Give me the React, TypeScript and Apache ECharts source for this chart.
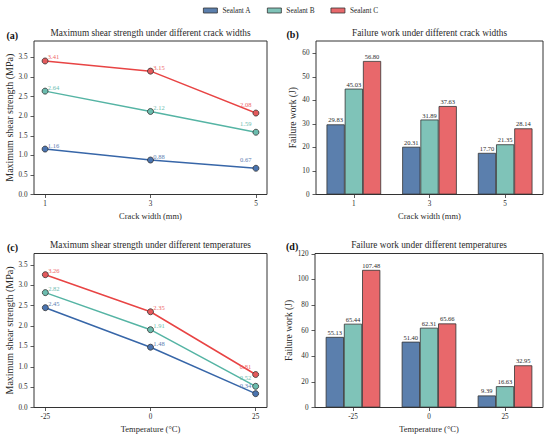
import React, { useEffect, useRef } from "react";
import * as echarts from "echarts";

const seriesNames = ["Sealant A", "Sealant B", "Sealant C"];
const crackWidths = [1, 3, 5];
const temperatures = [-25, 0, 25];

const strengthCrackA = [1.16, 0.88, 0.67];
const strengthCrackB = [2.64, 2.12, 1.59];
const strengthCrackC = [3.41, 3.15, 2.08];

const workCrackA = [29.83, 20.31, 17.7];
const workCrackB = [45.03, 31.89, 21.35];
const workCrackC = [56.8, 37.63, 28.14];

const strengthTempA = [2.45, 1.48, 0.34];
const strengthTempB = [2.82, 1.91, 0.52];
const strengthTempC = [3.26, 2.35, 0.81];

const workTempA = [55.13, 51.4, 9.39];
const workTempB = [65.44, 62.31, 16.63];
const workTempC = [107.48, 65.66, 32.95];

const strengthTicks = [0, 0.5, 1.0, 1.5, 2.0, 2.5, 3.0, 3.5];
const workCrackTicks = [0, 10, 20, 30, 40, 50, 60];
const workTempTicks = [0, 20, 40, 60, 80, 100, 120];

const titles = [
  "Maximum shear strength under different crack widths",
  "Failure work under different crack widths",
  "Maximum shear strength under different temperatures",
  "Failure work under different temperatures",
];
const panelLabels = ["(a)", "(b)", "(c)", "(d)"];

const FONT = "'Liberation Serif', 'Times New Roman', 'DejaVu Serif', serif";
const barColors = ["#5b7fad", "#7fc3b8", "#e8686b"];
const lineColors = ["#3766a8", "#55b4a4", "#e84444"];
const markerColors = ["#4a74b0", "#6bbcae", "#e35a5c"];
const labelColors = ["#5b80b2", "#6cbdb0", "#ee6668"];
const EDGE = "#333333";
const TEXT = "#2a2a2a";

export default function App() {
  const ref = useRef<HTMLDivElement | null>(null);

  useEffect(() => {
    if (!ref.current) return;
    const chart = echarts.init(ref.current, undefined, { renderer: "svg" });

    const axisTick = { show: true, length: 3.5, inside: false, lineStyle: { color: EDGE, width: 0.8 } };
    const axisLabel = { color: TEXT, fontSize: 7.2, fontFamily: FONT };
    const nameStyle = { color: TEXT, fontSize: 8.5, fontFamily: FONT };

    const lineSeries = (
      name: string,
      idx: number,
      axis: number,
      xs: number[],
      vals: number[]
    ) => ({
      type: "line",
      name,
      xAxisIndex: axis,
      yAxisIndex: axis,
      data: xs.map((x, i) => {
        const last = i === xs.length - 1;
        return {
          value: [x, vals[i]],
          label: last
            ? { align: "right", offset: [-4.5, -8.5] }
            : { align: "left", offset: [2.8, -4] },
        };
      }),
      symbol: "circle",
      symbolSize: 6,
      lineStyle: { color: lineColors[idx], width: 1.5 },
      itemStyle: { color: markerColors[idx], borderColor: EDGE, borderWidth: 0.8 },
      label: {
        show: true,
        position: "inside",
        verticalAlign: "middle",
        color: labelColors[idx],
        fontSize: 6.5,
        fontFamily: FONT,
        formatter: (p: any) => Number(p.value[1]).toFixed(2),
      },
      emphasis: { disabled: true },
      z: 3 - idx,
    });

    const barSeries = (name: string, idx: number, axis: number, vals: number[]) => ({
      type: "bar",
      name,
      xAxisIndex: axis,
      yAxisIndex: axis,
      data: vals,
      barWidth: 18.2,
      barGap: "0%",
      itemStyle: { color: barColors[idx], borderColor: EDGE, borderWidth: 0.8 },
      label: {
        show: true,
        position: "top",
        distance: 1,
        color: TEXT,
        fontSize: 6.5,
        fontFamily: FONT,
        formatter: (p: any) => Number(p.value).toFixed(2),
      },
      emphasis: { disabled: true },
    });

    const grids = [
      { left: 34, top: 41, width: 233, height: 153.5 },
      { left: 316, top: 41, width: 227, height: 153.5 },
      { left: 34, top: 253.5, width: 233, height: 154 },
      { left: 315, top: 253.5, width: 228, height: 154 },
    ].map((g) => ({ ...g, show: true, borderColor: EDGE, borderWidth: 1, backgroundColor: "transparent", containLabel: false }));

    const xName = (i: number) => (i < 2 ? "Crack width (mm)" : "Temperature (°C)");

    const xAxis = [
      {
        type: "value",
        gridIndex: 0,
        min: 0.79,
        max: 5.21,
        axisLabel: { ...axisLabel, margin: 6, customValues: crackWidths },
        axisTick: { ...axisTick, customValues: crackWidths },
      },
      {
        type: "category",
        gridIndex: 1,
        data: crackWidths.map(String),
        axisLabel: { ...axisLabel, margin: 6 },
        axisTick: { ...axisTick, alignWithLabel: true },
      },
      {
        type: "value",
        gridIndex: 2,
        min: -27.7,
        max: 27.7,
        axisLabel: { ...axisLabel, margin: 6, customValues: temperatures },
        axisTick: { ...axisTick, customValues: temperatures },
      },
      {
        type: "category",
        gridIndex: 3,
        data: temperatures.map(String),
        axisLabel: { ...axisLabel, margin: 6 },
        axisTick: { ...axisTick, alignWithLabel: true },
      },
    ].map((a, i) => ({
      ...a,
      name: xName(i),
      nameLocation: "middle",
      nameGap: 16.5,
      nameTextStyle: nameStyle,
      axisLine: { show: false, onZero: false },
      splitLine: { show: false },
    }));

    const yAxis = [
      { max: 3.92, ticks: strengthTicks, dec: 1, name: "Maximum shear strength (MPa)", gap: 17.5, fs: 10 },
      { max: 65.3, ticks: workCrackTicks, dec: 0, name: "Failure work (J)", gap: 17.7, fs: 9.5 },
      { max: 3.78, ticks: strengthTicks, dec: 1, name: "Maximum shear strength (MPa)", gap: 17, fs: 10 },
      { max: 120.3, ticks: workTempTicks, dec: 0, name: "Failure work (J)", gap: 21, fs: 9.5 },
    ].map((y, i) => ({
      type: "value",
      gridIndex: i,
      min: 0,
      max: y.max,
      name: y.name,
      nameLocation: "middle",
      nameGap: y.gap,
      nameRotate: 90,
      nameTextStyle: { ...nameStyle, fontSize: y.fs },
      axisLabel: {
        ...axisLabel,
        margin: 6.5,
        customValues: y.ticks,
        formatter: (v: number) => Number(v).toFixed(y.dec),
      },
      axisTick: { ...axisTick, customValues: y.ticks },
      axisLine: { show: false, onZero: false },
      splitLine: { show: false },
    }));

    const series = [
      barSeries(seriesNames[0], 0, 1, workCrackA),
      barSeries(seriesNames[1], 1, 1, workCrackB),
      barSeries(seriesNames[2], 2, 1, workCrackC),
      barSeries(seriesNames[0], 0, 3, workTempA),
      barSeries(seriesNames[1], 1, 3, workTempB),
      barSeries(seriesNames[2], 2, 3, workTempC),
      lineSeries(seriesNames[0], 0, 0, crackWidths, strengthCrackA),
      lineSeries(seriesNames[1], 1, 0, crackWidths, strengthCrackB),
      lineSeries(seriesNames[2], 2, 0, crackWidths, strengthCrackC),
      lineSeries(seriesNames[0], 0, 2, temperatures, strengthTempA),
      lineSeries(seriesNames[1], 1, 2, temperatures, strengthTempB),
      lineSeries(seriesNames[2], 2, 2, temperatures, strengthTempC),
    ];

    const titlePos = [
      [150.5, 33],
      [429.5, 33],
      [150.5, 244.5],
      [429, 244.5],
    ];
    const labelPos = [
      [6.5, 35],
      [286.5, 34.5],
      [7, 247.5],
      [286, 246.5],
    ];

    const graphic = [
      ...titles.map((t, i) => ({
        type: "text",
        x: titlePos[i][0],
        y: titlePos[i][1],
        silent: true,
        style: {
          text: t,
          fill: TEXT,
          fontSize: 9.3,
          fontFamily: FONT,
          fontWeight: "normal",
          align: "center",
          verticalAlign: "middle",
        },
      })),
      ...panelLabels.map((t, i) => ({
        type: "text",
        x: labelPos[i][0],
        y: labelPos[i][1],
        silent: true,
        style: {
          text: t,
          fill: "#111",
          fontSize: 10,
          fontFamily: FONT,
          fontWeight: "bold",
          align: "left",
          verticalAlign: "middle",
        },
      })),
    ];

    chart.setOption({
      animation: false,
      textStyle: { fontFamily: FONT },
      legend: {
        left: 198,
        top: 2,
        icon: "rect",
        itemWidth: 14,
        itemHeight: 5,
        itemGap: 16,
        selectedMode: false,
        textStyle: { fontSize: 7.3, fontFamily: FONT, color: TEXT },
        data: seriesNames.map((n, i) => ({
          name: n,
          icon: "rect",
          itemStyle: { color: barColors[i], borderColor: EDGE, borderWidth: 0.8 },
        })),
      },
      grid: grids,
      xAxis,
      yAxis,
      series,
      graphic,
    });

    return () => {
      chart.dispose();
    };
  }, []);

  return (
    <div
      ref={ref}
      style={{ position: "absolute", left: 0, top: 0, width: 550, height: 437, background: "#fff" }}
    />
  );
}
